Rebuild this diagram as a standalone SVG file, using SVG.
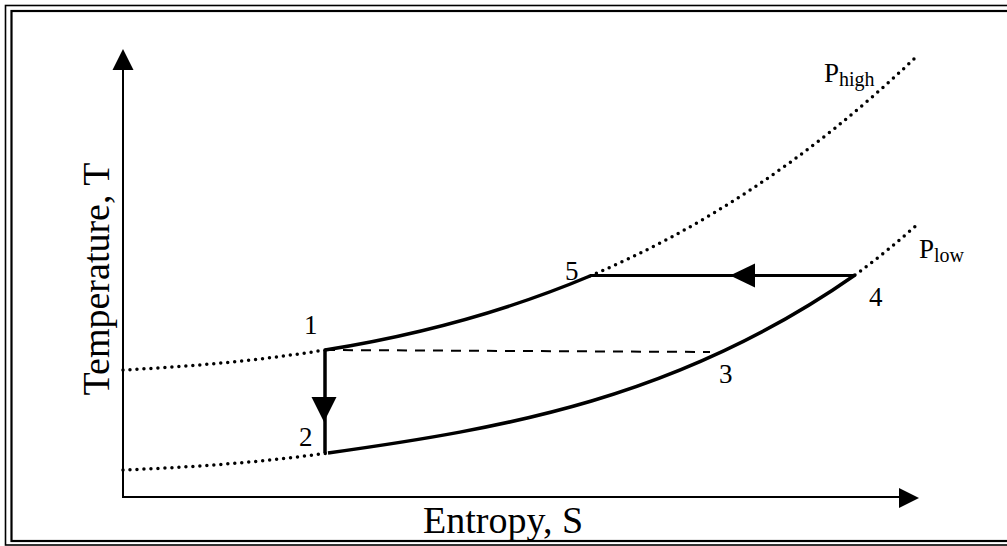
<svg xmlns="http://www.w3.org/2000/svg" width="1007" height="546" viewBox="0 0 1007 546">
<style>
.lbl{font-family:"Liberation Serif","Times New Roman",serif;fill:#000}
.num{font-size:27px}
.ax{font-size:38px}
.p{font-size:27px}
.sub{font-size:20px}
.dot{fill:none;stroke:#000;stroke-width:3.5;stroke-linecap:round;stroke-dasharray:0 7}
.sol{fill:none;stroke:#000;stroke-width:3.5}
.axis{fill:none;stroke:#000;stroke-width:2}
</style>
<rect x="0" y="0" width="1007" height="546" fill="#fff"/>
<g id="frame" fill="none" stroke="#000">
<rect x="5.5" y="5.5" width="1010" height="539.5" stroke-width="1.6"/>
<rect x="11.5" y="11" width="1010" height="530" stroke-width="2.2"/>
</g>
<g id="axes">
<line class="axis" x1="123" y1="497" x2="123" y2="66"/>
<polygon points="123,49 112.5,70 133.5,70"/>
<line class="axis" x1="122" y1="497" x2="902" y2="497"/>
<polygon points="919,498 899,488 899,508"/>
</g>
<g id="curves">
<path class="dot" d="M123,370 C190,366.6 258,360.7 325,350"/>
<path class="dot" d="M590,276 C698,230.6 807,160.6 915,58"/>
<path class="dot" d="M123,470 C191,467.3 260,462.5 328,453"/>
<path class="dot" d="M855,275 Q888,251 920,222"/>
</g>
<g id="connectors">
<path class="sol" d="M325,350 C413,336 502,313 590,276"/>
<path class="sol" d="M328,453 C504,428.4 679,398.2 855,275"/>
<line x1="325" y1="350" x2="710" y2="352" stroke="#000" stroke-width="2" stroke-dasharray="10 8"/>
<line x1="325" y1="350" x2="325" y2="453" stroke="#000" stroke-width="3.5"/>
<polygon points="324,422 311.5,397 336.5,397"/>
<line x1="590" y1="275.5" x2="855" y2="275.5" stroke="#000" stroke-width="3"/>
<polygon points="730,275.5 755,263.5 755,287.5"/>
</g>
<g id="labels" class="lbl">
<text class="num" x="304" y="334">1</text>
<text class="num" x="299" y="446">2</text>
<text class="num" x="719" y="383">3</text>
<text class="num" x="869" y="306">4</text>
<text class="num" x="565" y="280">5</text>
<text class="p" x="824" y="82">P<tspan class="sub" dy="4">high</tspan></text>
<text class="p" x="919" y="258">P<tspan class="sub" dy="4">low</tspan></text>
<text class="ax" x="503" y="533" text-anchor="middle">Entropy, S</text>
<text class="ax" transform="translate(109,279) rotate(-90)" text-anchor="middle">Temperature, T</text>
</g>
</svg>
